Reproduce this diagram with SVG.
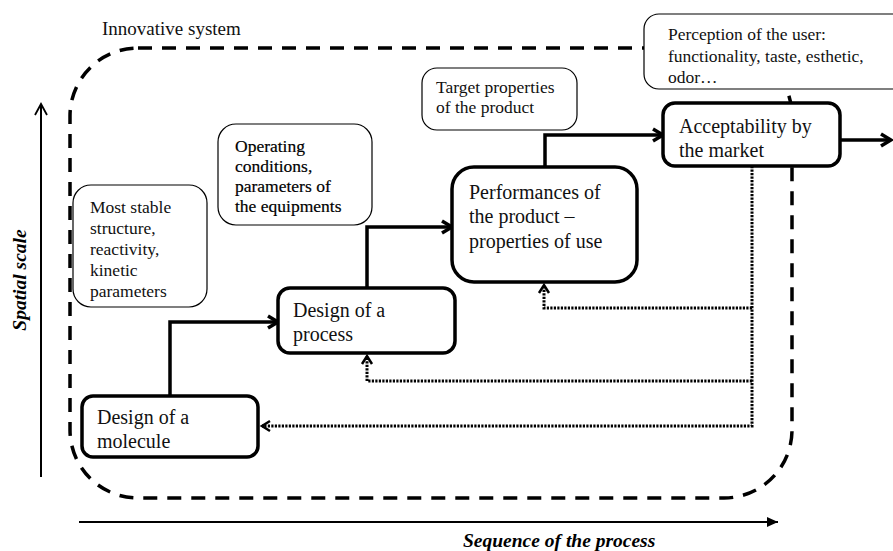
<svg xmlns="http://www.w3.org/2000/svg" width="893" height="551" viewBox="0 0 893 551">
<defs>
<style>
text{font-family:"Liberation Serif","Times New Roman",serif;fill:#111}
.big{font-size:20px}
.sm{font-size:17.5px}
.bd{fill:#000;stroke:#000;stroke-width:0.2}
.ax{font-size:19.5px;font-weight:bold;font-style:italic;fill:#000}
.node{fill:#fff;stroke:#000;stroke-width:3.5}
.call{fill:#fff;stroke:#000;stroke-width:1.2}
.flow{fill:none;stroke:#000;stroke-width:3.5;marker-end:url(#ah)}
.fb{fill:none;stroke:#000;stroke-width:3;stroke-dasharray:2.2 1.3}
</style>
<marker id="ah" markerUnits="userSpaceOnUse" markerWidth="16" markerHeight="16" refX="12" refY="7" orient="auto" overflow="visible">
<path d="M2,1 L12,7 L2,13" fill="none" stroke="#000" stroke-width="3.5"/>
</marker>
<marker id="ahd" markerUnits="userSpaceOnUse" markerWidth="12" markerHeight="12" refX="9" refY="6" orient="auto" overflow="visible">
<path d="M1,1 L9,6 L1,11" fill="none" stroke="#000" stroke-width="2.5"/>
</marker>
<marker id="ax1" markerUnits="userSpaceOnUse" markerWidth="14" markerHeight="14" refX="12" refY="7" orient="auto" overflow="visible">
<path d="M1,1 L12,7 L1,13" fill="none" stroke="#000" stroke-width="1.8"/>
</marker>
<marker id="ax2" markerUnits="userSpaceOnUse" markerWidth="14" markerHeight="14" refX="11" refY="5" orient="auto" overflow="visible">
<path d="M0,0 L11,5 L0,10 Z" fill="#000"/>
</marker>
</defs>
<rect width="893" height="551" fill="#fff"/>

<g id="axes">
<path d="M41,477 V104" stroke="#000" stroke-width="2" fill="none" marker-end="url(#ax1)"/>
<path d="M79,522 H778" stroke="#000" stroke-width="2" fill="none" marker-end="url(#ax2)"/>
<text class="ax" transform="translate(26,280) rotate(-90)" text-anchor="middle">Spatial scale</text>
<text class="ax" x="463" y="547">Sequence of the process</text>
</g>

<g id="innovative-system">
<rect x="70" y="48" width="722" height="450" rx="68" ry="68" fill="none" stroke="#000" stroke-width="3.5" stroke-dasharray="14 10"/>
<text x="102" y="35" style="font-size:19px">Innovative system</text>
</g>

<g id="connectors">
<path class="flow" d="M170,396 V322 H278"/>
<path class="flow" d="M367,288 V227 H452"/>
<path class="flow" d="M545,167 V135 H663"/>
<path class="flow" d="M840,140 H891"/>
<path class="fb" d="M752,166 V426 H262" marker-end="url(#ahd)"/>
<path class="fb" d="M752,308 H544 V285" marker-end="url(#ahd)"/>
<path class="fb" d="M752,381 H367 V356" marker-end="url(#ahd)"/>
</g>

<g id="callout-molecule">
<rect class="call" x="73" y="185" width="134" height="122" rx="18"/>
<text class="sm" x="90" y="213">Most stable</text>
<text class="sm" x="90" y="234">structure,</text>
<text class="sm" x="90" y="255">reactivity,</text>
<text class="sm" x="90" y="276">kinetic</text>
<text class="sm" x="90" y="297">parameters</text>
</g>

<g id="callout-process">
<rect class="call" x="218" y="124" width="154" height="101" rx="18"/>
<text class="sm bd" x="235" y="152">Operating</text>
<text class="sm bd" x="235" y="172">conditions,</text>
<text class="sm bd" x="235" y="192">parameters of</text>
<text class="sm bd" x="235" y="212">the equipments</text>
</g>

<g id="callout-product">
<rect class="call" x="422" y="68" width="155" height="62" rx="15"/>
<text class="sm" x="436" y="93">Target properties</text>
<text class="sm" x="436" y="113">of the product</text>
</g>

<g id="callout-user">
<rect class="call" x="644" y="14" width="270" height="75" rx="15"/>
<text class="sm" x="668" y="40">Perception of the user:</text>
<text class="sm" x="668" y="62">functionality, taste, esthetic,</text>
<text class="sm" x="668" y="83">odor…</text>
</g>

<g id="node-molecule">
<rect class="node" x="82" y="396" width="176" height="61" rx="11"/>
<text class="big" x="97" y="424">Design of a</text>
<text class="big" x="97" y="448">molecule</text>
</g>

<g id="node-process">
<rect class="node" x="278" y="288" width="177" height="65" rx="12"/>
<text class="big" x="293" y="317">Design of a</text>
<text class="big" x="293" y="341">process</text>
</g>

<g id="node-performances">
<rect class="node" x="452" y="167" width="185" height="115" rx="22"/>
<text class="big" x="469" y="199">Performances of</text>
<text class="big" x="469" y="223">the product –</text>
<text class="big" x="469" y="248">properties of use</text>
</g>

<g id="node-acceptability">
<rect class="node" x="663" y="103" width="177" height="63" rx="12"/>
<text class="big" x="679" y="133">Acceptability by</text>
<text class="big" x="679" y="157">the market</text>
</g>
</svg>
